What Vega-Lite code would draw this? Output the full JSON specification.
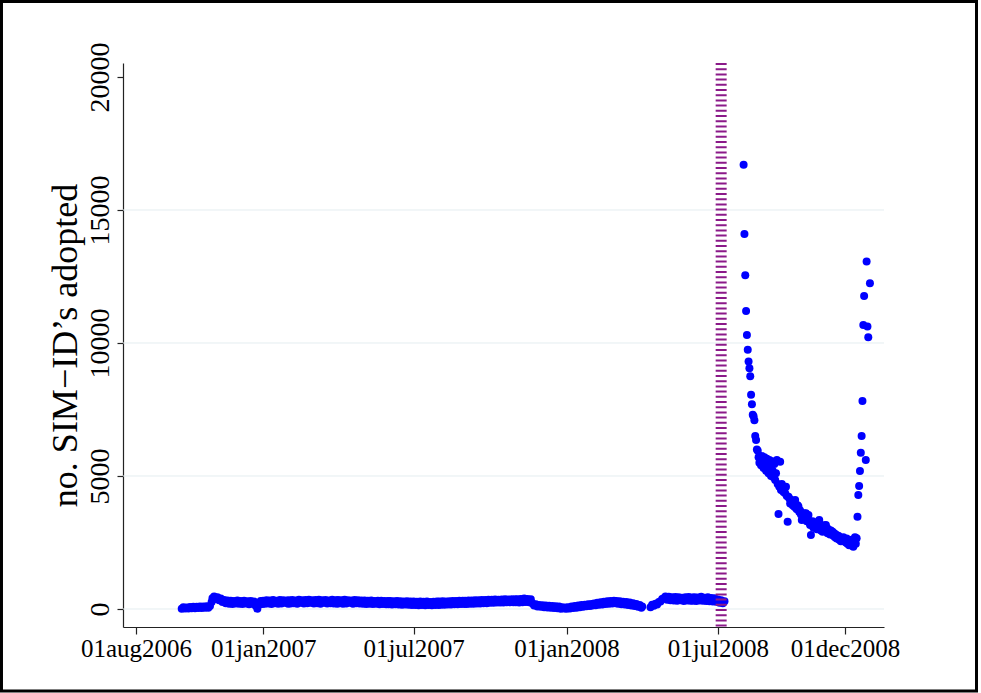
{
"$schema":"https://vega.github.io/schema/vega-lite/v6.json",
"width":761,"height":564,
"autosize":{"type":"none"},
"padding":{"left":123,"top":63,"right":97,"bottom":66},
"background":"white",
"config":{"view":{"stroke":null},"font":"Liberation Serif"},
"datasets":{"pts":[
{"d":"2006-09-25","v":10},{"d":"2006-09-27","v":70},{"d":"2006-09-29","v":20},
{"d":"2006-10-01","v":60},{"d":"2006-10-03","v":15},{"d":"2006-10-05","v":75},{"d":"2006-10-07","v":30},{"d":"2006-10-09","v":80},{"d":"2006-10-11","v":25},{"d":"2006-10-13","v":85},{"d":"2006-10-15","v":40},{"d":"2006-10-17","v":90},{"d":"2006-10-19","v":35},{"d":"2006-10-21","v":95},{"d":"2006-10-23","v":45},{"d":"2006-10-25","v":100},{"d":"2006-10-27","v":50},{"d":"2006-10-29","v":110},{"d":"2006-10-31","v":260},
{"d":"2006-11-01","v":400},{"d":"2006-11-03","v":470},{"d":"2006-11-05","v":380},{"d":"2006-11-07","v":440},{"d":"2006-11-09","v":330},{"d":"2006-11-11","v":390},{"d":"2006-11-13","v":260},{"d":"2006-11-15","v":340},{"d":"2006-11-17","v":220},{"d":"2006-11-19","v":320},{"d":"2006-11-21","v":200},{"d":"2006-11-23","v":310},{"d":"2006-11-25","v":190},{"d":"2006-11-27","v":300},{"d":"2006-11-29","v":210},
{"d":"2006-12-01","v":320},{"d":"2006-12-03","v":200},{"d":"2006-12-05","v":300},{"d":"2006-12-07","v":190},{"d":"2006-12-09","v":310},{"d":"2006-12-11","v":210},{"d":"2006-12-13","v":290},{"d":"2006-12-15","v":180},{"d":"2006-12-17","v":300},{"d":"2006-12-19","v":200},{"d":"2006-12-21","v":280},{"d":"2006-12-23","v":120},{"d":"2006-12-25","v":10},{"d":"2006-12-27","v":160},{"d":"2006-12-29","v":300},{"d":"2006-12-31","v":190},
{"d":"2007-01-01","v":310},{"d":"2007-01-03","v":200},{"d":"2007-01-05","v":330},{"d":"2007-01-07","v":210},{"d":"2007-01-09","v":320},{"d":"2007-01-11","v":190},{"d":"2007-01-13","v":340},{"d":"2007-01-15","v":220},{"d":"2007-01-17","v":310},{"d":"2007-01-19","v":200},{"d":"2007-01-21","v":340},{"d":"2007-01-23","v":210},{"d":"2007-01-25","v":330},{"d":"2007-01-27","v":230},{"d":"2007-01-29","v":320},{"d":"2007-01-31","v":200},
{"d":"2007-02-01","v":330},{"d":"2007-02-03","v":210},{"d":"2007-02-05","v":340},{"d":"2007-02-07","v":220},{"d":"2007-02-09","v":320},{"d":"2007-02-11","v":200},{"d":"2007-02-13","v":350},{"d":"2007-02-15","v":230},{"d":"2007-02-17","v":330},{"d":"2007-02-19","v":210},{"d":"2007-02-21","v":340},{"d":"2007-02-23","v":220},{"d":"2007-02-25","v":350},{"d":"2007-02-27","v":230},
{"d":"2007-03-01","v":330},{"d":"2007-03-03","v":210},{"d":"2007-03-05","v":340},{"d":"2007-03-07","v":220},{"d":"2007-03-09","v":350},{"d":"2007-03-11","v":200},{"d":"2007-03-13","v":330},{"d":"2007-03-15","v":230},{"d":"2007-03-17","v":340},{"d":"2007-03-19","v":210},{"d":"2007-03-21","v":320},{"d":"2007-03-23","v":220},{"d":"2007-03-25","v":350},{"d":"2007-03-27","v":210},{"d":"2007-03-29","v":330},{"d":"2007-03-31","v":200},
{"d":"2007-04-01","v":340},{"d":"2007-04-03","v":220},{"d":"2007-04-05","v":330},{"d":"2007-04-07","v":200},{"d":"2007-04-09","v":350},{"d":"2007-04-11","v":210},{"d":"2007-04-13","v":330},{"d":"2007-04-15","v":230},{"d":"2007-04-17","v":320},{"d":"2007-04-19","v":200},{"d":"2007-04-21","v":340},{"d":"2007-04-23","v":220},{"d":"2007-04-25","v":330},{"d":"2007-04-27","v":210},{"d":"2007-04-29","v":320},
{"d":"2007-05-01","v":200},{"d":"2007-05-03","v":320},{"d":"2007-05-05","v":190},{"d":"2007-05-07","v":310},{"d":"2007-05-09","v":200},{"d":"2007-05-11","v":320},{"d":"2007-05-13","v":190},{"d":"2007-05-15","v":300},{"d":"2007-05-17","v":200},{"d":"2007-05-19","v":310},{"d":"2007-05-21","v":180},{"d":"2007-05-23","v":310},{"d":"2007-05-25","v":190},{"d":"2007-05-27","v":300},{"d":"2007-05-29","v":180},{"d":"2007-05-31","v":300},
{"d":"2007-06-01","v":180},{"d":"2007-06-03","v":300},{"d":"2007-06-05","v":170},{"d":"2007-06-07","v":290},{"d":"2007-06-09","v":180},{"d":"2007-06-11","v":300},{"d":"2007-06-13","v":170},{"d":"2007-06-15","v":290},{"d":"2007-06-17","v":160},{"d":"2007-06-19","v":280},{"d":"2007-06-21","v":170},{"d":"2007-06-23","v":290},{"d":"2007-06-25","v":160},{"d":"2007-06-27","v":280},{"d":"2007-06-29","v":150},
{"d":"2007-07-01","v":280},{"d":"2007-07-03","v":150},{"d":"2007-07-05","v":270},{"d":"2007-07-07","v":140},{"d":"2007-07-09","v":280},{"d":"2007-07-11","v":150},{"d":"2007-07-13","v":270},{"d":"2007-07-15","v":140},{"d":"2007-07-17","v":280},{"d":"2007-07-19","v":150},{"d":"2007-07-21","v":260},{"d":"2007-07-23","v":140},{"d":"2007-07-25","v":270},{"d":"2007-07-27","v":150},{"d":"2007-07-29","v":280},{"d":"2007-07-31","v":150},
{"d":"2007-08-01","v":280},{"d":"2007-08-03","v":160},{"d":"2007-08-05","v":290},{"d":"2007-08-07","v":160},{"d":"2007-08-09","v":280},{"d":"2007-08-11","v":170},{"d":"2007-08-13","v":290},{"d":"2007-08-15","v":170},{"d":"2007-08-17","v":300},{"d":"2007-08-19","v":180},{"d":"2007-08-21","v":300},{"d":"2007-08-23","v":180},{"d":"2007-08-25","v":310},{"d":"2007-08-27","v":190},{"d":"2007-08-29","v":310},{"d":"2007-08-31","v":190},
{"d":"2007-09-01","v":310},{"d":"2007-09-03","v":190},{"d":"2007-09-05","v":320},{"d":"2007-09-07","v":200},{"d":"2007-09-09","v":320},{"d":"2007-09-11","v":200},{"d":"2007-09-13","v":330},{"d":"2007-09-15","v":210},{"d":"2007-09-17","v":330},{"d":"2007-09-19","v":210},{"d":"2007-09-21","v":340},{"d":"2007-09-23","v":220},{"d":"2007-09-25","v":340},{"d":"2007-09-27","v":220},{"d":"2007-09-29","v":350},
{"d":"2007-10-01","v":230},{"d":"2007-10-03","v":350},{"d":"2007-10-05","v":230},{"d":"2007-10-07","v":360},{"d":"2007-10-09","v":240},{"d":"2007-10-11","v":350},{"d":"2007-10-13","v":240},{"d":"2007-10-15","v":360},{"d":"2007-10-17","v":240},{"d":"2007-10-19","v":370},{"d":"2007-10-21","v":250},{"d":"2007-10-23","v":360},{"d":"2007-10-25","v":250},{"d":"2007-10-27","v":370},{"d":"2007-10-29","v":250},{"d":"2007-10-31","v":370},
{"d":"2007-11-01","v":250},{"d":"2007-11-03","v":370},{"d":"2007-11-05","v":240},{"d":"2007-11-07","v":380},{"d":"2007-11-09","v":250},{"d":"2007-11-11","v":390},{"d":"2007-11-13","v":260},{"d":"2007-11-15","v":380},{"d":"2007-11-17","v":250},{"d":"2007-11-19","v":370},{"d":"2007-11-21","v":210},{"d":"2007-11-23","v":130},{"d":"2007-11-25","v":180},{"d":"2007-11-27","v":90},{"d":"2007-11-29","v":150},
{"d":"2007-12-01","v":80},{"d":"2007-12-03","v":140},{"d":"2007-12-05","v":70},{"d":"2007-12-07","v":130},{"d":"2007-12-09","v":60},{"d":"2007-12-11","v":120},{"d":"2007-12-13","v":50},{"d":"2007-12-15","v":110},{"d":"2007-12-17","v":40},{"d":"2007-12-19","v":100},{"d":"2007-12-21","v":30},{"d":"2007-12-23","v":90},{"d":"2007-12-25","v":10},{"d":"2007-12-27","v":70},{"d":"2007-12-29","v":20},{"d":"2007-12-31","v":60},
{"d":"2008-01-01","v":10},{"d":"2008-01-03","v":70},{"d":"2008-01-05","v":20},{"d":"2008-01-07","v":90},{"d":"2008-01-09","v":40},{"d":"2008-01-11","v":110},{"d":"2008-01-13","v":50},{"d":"2008-01-15","v":130},{"d":"2008-01-17","v":70},{"d":"2008-01-19","v":150},{"d":"2008-01-21","v":80},{"d":"2008-01-23","v":160},{"d":"2008-01-25","v":100},{"d":"2008-01-27","v":180},{"d":"2008-01-29","v":110},{"d":"2008-01-31","v":190},
{"d":"2008-02-01","v":130},{"d":"2008-02-03","v":210},{"d":"2008-02-05","v":140},{"d":"2008-02-07","v":230},{"d":"2008-02-09","v":160},{"d":"2008-02-11","v":250},{"d":"2008-02-13","v":170},{"d":"2008-02-15","v":270},{"d":"2008-02-17","v":190},{"d":"2008-02-19","v":290},{"d":"2008-02-21","v":200},{"d":"2008-02-23","v":300},{"d":"2008-02-25","v":210},{"d":"2008-02-27","v":310},{"d":"2008-02-29","v":220},
{"d":"2008-03-01","v":300},{"d":"2008-03-03","v":200},{"d":"2008-03-05","v":290},{"d":"2008-03-07","v":180},{"d":"2008-03-09","v":270},{"d":"2008-03-11","v":170},{"d":"2008-03-13","v":260},{"d":"2008-03-15","v":150},{"d":"2008-03-17","v":240},{"d":"2008-03-19","v":130},{"d":"2008-03-21","v":220},{"d":"2008-03-23","v":110},{"d":"2008-03-25","v":190},{"d":"2008-03-27","v":80},{"d":"2008-03-29","v":150},{"d":"2008-03-31","v":50},
{"d":"2008-04-01","v":90},{"d":"2008-04-11","v":70},{"d":"2008-04-13","v":160},{"d":"2008-04-15","v":120},{"d":"2008-04-17","v":200},{"d":"2008-04-19","v":170},{"d":"2008-04-21","v":260},{"d":"2008-04-23","v":280},{"d":"2008-04-25","v":380},{"d":"2008-04-27","v":400},{"d":"2008-04-29","v":470},
{"d":"2008-05-01","v":350},{"d":"2008-05-03","v":460},{"d":"2008-05-05","v":330},{"d":"2008-05-07","v":440},{"d":"2008-05-09","v":320},{"d":"2008-05-11","v":450},{"d":"2008-05-13","v":310},{"d":"2008-05-15","v":440},{"d":"2008-05-17","v":330},{"d":"2008-05-19","v":420},{"d":"2008-05-21","v":300},{"d":"2008-05-23","v":440},{"d":"2008-05-25","v":320},{"d":"2008-05-27","v":450},{"d":"2008-05-29","v":310},{"d":"2008-05-31","v":430},
{"d":"2008-06-01","v":310},{"d":"2008-06-03","v":440},{"d":"2008-06-05","v":300},{"d":"2008-06-07","v":430},{"d":"2008-06-09","v":320},{"d":"2008-06-11","v":460},{"d":"2008-06-13","v":310},{"d":"2008-06-15","v":420},{"d":"2008-06-17","v":300},{"d":"2008-06-19","v":440},{"d":"2008-06-21","v":290},{"d":"2008-06-23","v":410},{"d":"2008-06-25","v":280},{"d":"2008-06-27","v":400},{"d":"2008-06-29","v":270},
{"d":"2008-07-01","v":360},{"d":"2008-07-03","v":230},{"d":"2008-07-05","v":330},{"d":"2008-07-07","v":220},{"d":"2008-07-09","v":290},
{"d":"2008-08-01","v":16700},{"d":"2008-08-02","v":14100},{"d":"2008-08-03","v":12550},{"d":"2008-08-04","v":11200},{"d":"2008-08-05","v":10300},{"d":"2008-08-06","v":9750},{"d":"2008-08-07","v":9300},{"d":"2008-08-08","v":9050},{"d":"2008-08-09","v":8750},{"d":"2008-08-10","v":8050},{"d":"2008-08-11","v":7700},{"d":"2008-08-12","v":7300},{"d":"2008-08-13","v":7250},{"d":"2008-08-14","v":7100},{"d":"2008-08-15","v":6500},{"d":"2008-08-16","v":6350},{"d":"2008-08-17","v":6000},{"d":"2008-08-18","v":5950},{"d":"2008-08-19","v":5700},{"d":"2008-08-20","v":5500},{"d":"2008-08-21","v":5650},{"d":"2008-08-22","v":5400},{"d":"2008-08-23","v":5750},{"d":"2008-08-24","v":5600},{"d":"2008-08-25","v":5300},{"d":"2008-08-26","v":5700},{"d":"2008-08-27","v":5450},{"d":"2008-08-28","v":5200},{"d":"2008-08-29","v":5650},{"d":"2008-08-30","v":5350},{"d":"2008-08-31","v":5100},
{"d":"2008-09-01","v":5600},{"d":"2008-09-02","v":5250},{"d":"2008-09-03","v":5000},{"d":"2008-09-04","v":5550},{"d":"2008-09-05","v":5200},{"d":"2008-09-06","v":4950},{"d":"2008-09-07","v":5450},{"d":"2008-09-08","v":4850},{"d":"2008-09-09","v":5100},{"d":"2008-09-10","v":5600},{"d":"2008-09-11","v":4700},{"d":"2008-09-12","v":3570},{"d":"2008-09-13","v":4600},{"d":"2008-09-14","v":5540},{"d":"2008-09-15","v":4470},{"d":"2008-09-16","v":4700},{"d":"2008-09-17","v":4550},{"d":"2008-09-18","v":4400},{"d":"2008-09-19","v":4500},{"d":"2008-09-20","v":4350},{"d":"2008-09-21","v":4600},{"d":"2008-09-22","v":4250},{"d":"2008-09-23","v":3280},{"d":"2008-09-24","v":4220},{"d":"2008-09-25","v":4150},{"d":"2008-09-26","v":3970},{"d":"2008-09-27","v":4100},{"d":"2008-09-28","v":4000},{"d":"2008-09-29","v":3900},{"d":"2008-09-30","v":4050},
{"d":"2008-10-01","v":3850},{"d":"2008-10-02","v":4100},{"d":"2008-10-03","v":3800},{"d":"2008-10-04","v":3750},{"d":"2008-10-05","v":3900},{"d":"2008-10-06","v":3850},{"d":"2008-10-07","v":3650},{"d":"2008-10-08","v":3700},{"d":"2008-10-09","v":3550},{"d":"2008-10-10","v":3350},{"d":"2008-10-11","v":3500},{"d":"2008-10-12","v":3450},{"d":"2008-10-13","v":3600},{"d":"2008-10-14","v":3400},{"d":"2008-10-15","v":3600},{"d":"2008-10-16","v":3300},{"d":"2008-10-17","v":3450},{"d":"2008-10-18","v":3530},{"d":"2008-10-19","v":3250},{"d":"2008-10-20","v":3160},{"d":"2008-10-21","v":2780},{"d":"2008-10-22","v":3200},{"d":"2008-10-23","v":3300},{"d":"2008-10-24","v":3050},{"d":"2008-10-25","v":3150},{"d":"2008-10-26","v":3250},{"d":"2008-10-27","v":3100},{"d":"2008-10-28","v":3000},{"d":"2008-10-29","v":3200},{"d":"2008-10-30","v":3050},{"d":"2008-10-31","v":3350},
{"d":"2008-11-01","v":3150},{"d":"2008-11-02","v":2950},{"d":"2008-11-03","v":3100},{"d":"2008-11-04","v":2900},{"d":"2008-11-05","v":3000},{"d":"2008-11-06","v":3150},{"d":"2008-11-07","v":2950},{"d":"2008-11-08","v":3160},{"d":"2008-11-09","v":3050},{"d":"2008-11-10","v":2850},{"d":"2008-11-11","v":3000},{"d":"2008-11-12","v":2900},{"d":"2008-11-13","v":2800},{"d":"2008-11-14","v":2950},{"d":"2008-11-15","v":2850},{"d":"2008-11-16","v":2900},{"d":"2008-11-17","v":2750},{"d":"2008-11-18","v":2850},{"d":"2008-11-19","v":2700},{"d":"2008-11-20","v":2800},{"d":"2008-11-21","v":2650},{"d":"2008-11-22","v":2720},{"d":"2008-11-23","v":2750},{"d":"2008-11-24","v":2600},{"d":"2008-11-25","v":2700},{"d":"2008-11-26","v":2550},{"d":"2008-11-27","v":2650},{"d":"2008-11-28","v":2600},{"d":"2008-11-29","v":2700},{"d":"2008-11-30","v":2550},
{"d":"2008-12-01","v":2600},{"d":"2008-12-02","v":2500},{"d":"2008-12-03","v":2650},{"d":"2008-12-04","v":2450},{"d":"2008-12-05","v":2550},{"d":"2008-12-06","v":2400},{"d":"2008-12-07","v":2530},{"d":"2008-12-08","v":2450},{"d":"2008-12-09","v":2600},{"d":"2008-12-10","v":2380},{"d":"2008-12-11","v":2340},{"d":"2008-12-12","v":2500},{"d":"2008-12-13","v":2700},{"d":"2008-12-14","v":2450},{"d":"2008-12-15","v":2660},
{"d":"2008-12-16","v":3470},{"d":"2008-12-17","v":4290},{"d":"2008-12-18","v":4620},{"d":"2008-12-19","v":5190},{"d":"2008-12-20","v":5870},{"d":"2008-12-21","v":6505},{"d":"2008-12-22","v":7820},{"d":"2008-12-23","v":10680},{"d":"2008-12-24","v":11770},{"d":"2008-12-26","v":5600},{"d":"2008-12-27","v":13060},{"d":"2008-12-28","v":10620},{"d":"2008-12-29","v":10220},{"d":"2008-12-31","v":12250}
]},
"layer":[
{"data":{"values":[{"f":1}]},
 "mark":{"type":"rect","fill":"transparent","stroke":"black","strokeWidth":3,"clip":false},
 "encoding":{
  "x":{"datum":{"year":2006,"month":2,"date":20,"hours":4,"utc":true},"type":"temporal","scale":{"type":"utc"}},
  "x2":{"datum":{"year":2009,"month":5,"date":8,"hours":5,"utc":true}},
  "y":{"datum":22838,"type":"quantitative"},
  "y2":{"datum":-3083}}},
{"data":{"values":[{"g":0},{"g":5000},{"g":10000},{"g":15000}]},
 "mark":{"type":"rule","color":"#E4EDF0","strokeWidth":1},
 "encoding":{"y":{"field":"g","type":"quantitative"}}},
{"data":{"name":"pts"},
 "mark":{"type":"circle","color":"#0000FF","size":64,"opacity":1},
 "encoding":{
  "x":{"field":"d","type":"temporal",
   "scale":{"type":"utc","domain":[{"year":2006,"month":7,"date":16,"hours":8,"minutes":40,"utc":true},{"year":2009,"month":1,"date":16,"hours":22,"utc":true}]},
   "axis":{"title":null,"values":[{"year":2006,"month":8,"date":1,"utc":true},{"year":2007,"month":1,"date":1,"utc":true},{"year":2007,"month":7,"date":1,"utc":true},{"year":2008,"month":1,"date":1,"utc":true},{"year":2008,"month":7,"date":1,"utc":true},{"year":2008,"month":12,"date":1,"utc":true}],
    "labelExpr":"lower(utcFormat(datum.value, '%d%b%Y'))",
    "labelFont":"Liberation Serif","labelFontSize":25,"labelColor":"#000","labelPadding":2,"labelFlush":false,"labelOverlap":false,
    "tickSize":7,"tickColor":"#222","tickWidth":1.2,"domainColor":"#222","domainWidth":1.2,"grid":false}},
  "y":{"field":"v","type":"quantitative",
   "scale":{"domain":[-677,20526],"nice":false,"zero":false},
   "axis":{"title":"no. SIM−ID’s adopted","titleFont":"Liberation Serif","titleFontSize":36,"titleFontWeight":"normal","titleColor":"#000","titlePadding":2,
    "values":[0,5000,10000,15000,20000],"format":"d","labelAngle":270,"labelAlign":"center","labelBaseline":"alphabetic",
    "labelFont":"Liberation Serif","labelFontSize":28,"labelColor":"#000","labelPadding":9,"labelFlush":false,"labelOverlap":false,
    "tickSize":6,"tickColor":"#222","tickWidth":1.2,"domainColor":"#222","domainWidth":1.2,"grid":false}}}},
{"data":{"values":[{"d":"2008-07-05"}]},
 "mark":{"type":"rule","color":"#8B1A89","strokeWidth":11,"strokeDash":[2,3.2]},
 "encoding":{"x":{"field":"d","type":"temporal","scale":{"type":"utc"}}}}
]
}
